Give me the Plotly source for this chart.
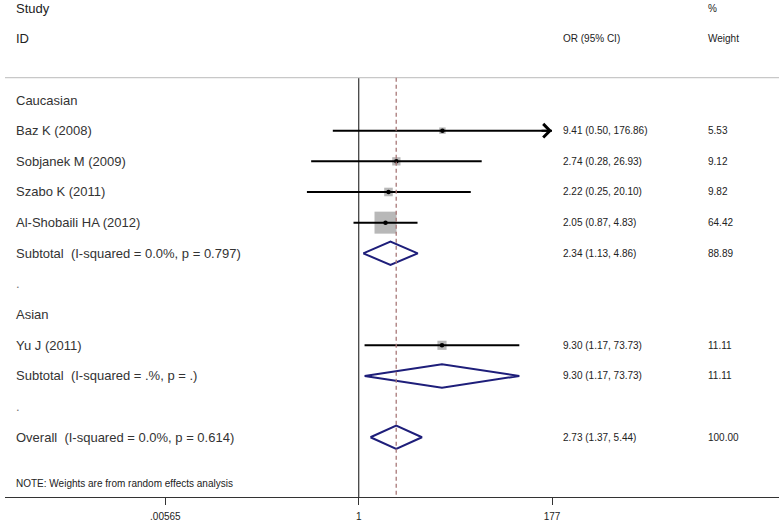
import math
import plotly.graph_objects as go

# ---- data ----
row_labels = ["Caucasian", "Baz K (2008)", "Sobjanek M (2009)", "Szabo K (2011)",
              "Al-Shobaili HA (2012)", "Subtotal  (I-squared = 0.0%, p = 0.797)", ".",
              "Asian", "Yu J (2011)", "Subtotal  (I-squared = .%, p = .)", ".",
              "Overall  (I-squared = 0.0%, p = 0.614)"]
row_kind = ["head", "study", "study", "study", "study", "sub", "blank",
            "head", "study", "sub", "blank", "overall"]
or_est = [None, 9.41, 2.74, 2.22, 2.05, 2.34, None, None, 9.30, 9.30, None, 2.73]
ci_lo = [None, 0.50, 0.28, 0.25, 0.87, 1.13, None, None, 1.17, 1.17, None, 1.37]
ci_hi = [None, 176.86, 26.93, 20.10, 4.83, 4.86, None, None, 73.73, 73.73, None, 5.44]
weight = [None, 5.53, 9.12, 9.82, 64.42, 88.89, None, None, 11.11, 11.11, None, 100.00]

tick_vals = [0.00565, 1, 177]
tick_text = [".00565", "1", "177"]
x_max = 177
overall_est = 2.73
note = "NOTE: Weights are from random effects analysis"

# ---- layout constants ----
W, H = 783, 525
ML, MR, MT, MB = 5, 4, 0, 28
PX_PER_DEC = 86.0
X1_PX = 358.7
ROW0_PX = 100.0
ROW_H = 30.66
plot_w = W - ML - MR
plot_h = H - MT - MB
x_range = [(ML - X1_PX) / PX_PER_DEC, (W - MR - X1_PX) / PX_PER_DEC]
y_range = [(MT + plot_h - ROW0_PX) / ROW_H, (MT - ROW0_PX) / ROW_H]

def px_paper(px):
    return (px - ML) / plot_w

FONT = "Liberation Sans, Arial, sans-serif"
TXT = "#222222"
NAVY = "#1e1e7a"

fig = go.Figure()
shapes = []
annotations = []

top_rule_y = (77.7 - ROW0_PX) / ROW_H

# reference lines
shapes.append(dict(type="line", xref="x", yref="y", x0=1, x1=1, y0=top_rule_y,
                   y1=y_range[0], line=dict(color="#444444", width=1.3), layer="below"))
shapes.append(dict(type="line", xref="paper", yref="y", x0=0, x1=1, y0=top_rule_y,
                   y1=top_rule_y, line=dict(color="#c8c8c8", width=1.3)))

max_w = max(w for w, k in zip(weight, row_kind) if k == "study" and w)
BOX_MAX = 22

for r, kind in enumerate(row_kind):
    if kind == "study":
        side = BOX_MAX * (weight[r] / max_w) ** 0.5
        fig.add_trace(go.Scatter(x=[or_est[r]], y=[r], mode="markers",
                                 marker=dict(symbol="square", size=side, color="#b8b8b8",
                                             line=dict(width=0)),
                                 hoverinfo="skip"))
        hi = min(ci_hi[r], x_max)
        fig.add_trace(go.Scatter(x=[ci_lo[r], hi], y=[r, r], mode="lines",
                                 line=dict(color="black", width=2), hoverinfo="skip"))
        if ci_hi[r] >= x_max * 0.99:
            annotations.append(dict(x=math.log10(x_max), y=r,
                                    xref="x", yref="y", ax=-12, ay=0, axref="pixel",
                                    ayref="pixel", showarrow=True, arrowhead=4,
                                    arrowsize=1.3, arrowwidth=2, arrowcolor="black",
                                    text=""))
        fig.add_trace(go.Scatter(x=[or_est[r]], y=[r], mode="markers",
                                 marker=dict(symbol="circle", size=4.5, color="black"),
                                 hoverinfo="skip"))
    elif kind in ("sub", "overall"):
        hh = 11.7 / ROW_H
        fig.add_trace(go.Scatter(x=[ci_lo[r], or_est[r], ci_hi[r], or_est[r], ci_lo[r]],
                                 y=[r, r - hh, r, r + hh, r], mode="lines", fill="toself",
                                 fillcolor="white", line=dict(color=NAVY, width=2),
                                 hoverinfo="skip"))

# dashed overall line (on top)
shapes.append(dict(type="line", xref="x", yref="y", x0=overall_est, x1=overall_est,
                   y0=top_rule_y, y1=y_range[0],
                   line=dict(color="#a87878", width=1.3, dash="4px,3px")))

# text columns
def add_text(px, row, text, size, color=TXT):
    annotations.append(dict(x=px_paper(px), y=row, xref="paper", yref="y", text=text,
                            showarrow=False, xanchor="left", yanchor="middle",
                            font=dict(family=FONT, size=size, color=color)))

add_text(14, -3, "Study", 13)
add_text(14, -2, "ID", 13)
add_text(561, -2, "OR (95% CI)", 10)
add_text(705.5, -3, "%", 10)
add_text(705.5, -2, "Weight", 10)

for r, lab in enumerate(row_labels):
    add_text(14, r, lab, 13, "#333333" if lab != "." else "#777777")
    if or_est[r] is not None:
        add_text(561, r, f"{or_est[r]:.2f} ({ci_lo[r]:.2f}, {ci_hi[r]:.2f})", 10)
        add_text(705.5, r, f"{weight[r]:.2f}", 10)

add_text(14, 12.5, note, 10)

fig.update_layout(
    width=W, height=H, margin=dict(l=ML, r=MR, t=MT, b=MB),
    paper_bgcolor="white", plot_bgcolor="white", showlegend=False,
    shapes=shapes, annotations=annotations,
    xaxis=dict(type="log", range=x_range, showgrid=False, zeroline=False,
               showline=True, linecolor="#333333", linewidth=1.3,
               tickmode="array", tickvals=tick_vals, ticktext=tick_text,
               ticks="outside", ticklen=7, tickwidth=1.3, tickcolor="#333333",
               ticklabelstandoff=3,
               tickfont=dict(family=FONT, size=10, color=TXT)),
    yaxis=dict(range=y_range, visible=False, showgrid=False, zeroline=False),
)

fig.write_html("out.html", config={"displayModeBar": False},
               post_script="document.body.style.margin='0';document.body.style.overflow='hidden';")
